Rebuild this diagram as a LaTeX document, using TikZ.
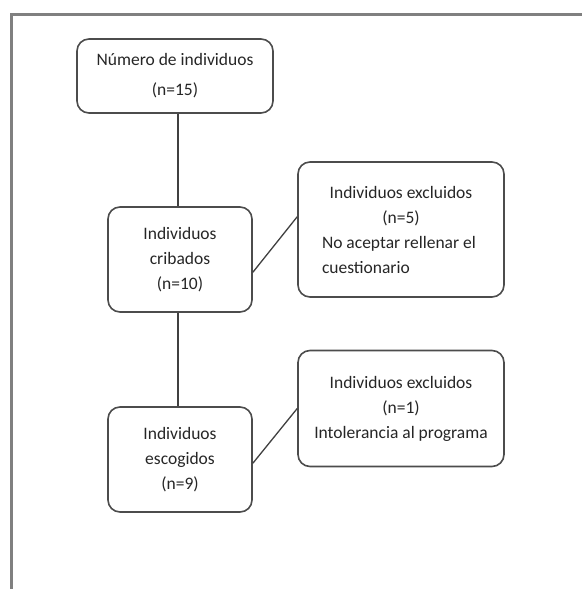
\documentclass[tikz,border=0pt]{standalone}
\usepackage{fontspec}
\setmainfont{Carlito}
\begin{document}
\begin{tikzpicture}[x=1pt,y=-1pt,
  box/.style={draw=black!70, line width=1.6pt, rounded corners=12pt, fill=white,
    inner sep=0pt, align=center, text=black!85,
    font=\fontsize{17.5}{25}\selectfont},
  link/.style={draw=black!75, line width=1.3pt},
  frame/.style={draw=black!50, line width=2.6pt}]
\useasboundingbox (0,0) rectangle (581,589);
\coordinate (ftl) at (11.5,14.5);
\coordinate (ftr) at (582,14.5);
\coordinate (fbl) at (11.5,590);
\draw[frame] (ftr) -- (ftl) -- (fbl);

\node[box, minimum width=196pt, minimum height=74pt] (n15) at (175,76)
  {Número de individuos\\[5pt](n=15)};
\node[box, minimum width=144pt, minimum height=105pt] (crib) at (180,259.5)
  {Individuos\\cribados\\(n=10)};
\node[box, minimum width=144pt, minimum height=105pt] (esc) at (180,459.5)
  {Individuos\\escogidos\\(n=9)};
\node[box, minimum width=206pt, minimum height=135pt] (exc1) at (401,229.5)
  {Individuos excluidos\\(n=5)\\\makebox[158pt][l]{No aceptar rellenar el}\\\makebox[158pt][l]{cuestionario}};
\node[box, minimum width=206pt, minimum height=116pt] (exc2) at (401,408.5)
  {Individuos excluidos\\(n=1)\\Intolerancia al programa};

\draw[link] (n15.south) ++(3,0) coordinate (ns) -- (ns |- crib.north);
\draw[link] (crib.south) ++(-2,0) coordinate (cs) -- (cs |- esc.north);
\draw[link] (crib.-10) -- (exc1.173);
\draw[link] (esc.-3) -- (exc2.180);
\end{tikzpicture}
\end{document}
